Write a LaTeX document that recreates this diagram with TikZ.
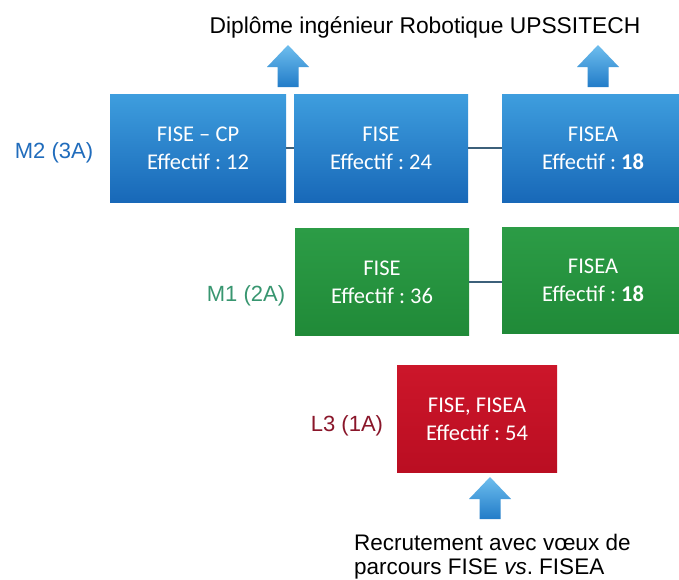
\documentclass[tikz,border=0pt]{standalone}
\usepackage{fontspec}
\setmainfont{Liberation Sans}
\newfontfamily\boxfont{Carlito}
\usetikzlibrary{calc}
\frenchspacing
\definecolor{bluetop}{RGB}{62,158,222}
\definecolor{bluebot}{RGB}{24,104,184}
\definecolor{greentop}{RGB}{44,156,70}
\definecolor{greenbot}{RGB}{32,138,56}
\definecolor{redtop}{RGB}{204,22,42}
\definecolor{redbot}{RGB}{186,14,34}
\definecolor{arrtop}{RGB}{110,190,238}
\definecolor{arrbot}{RGB}{34,124,200}
\definecolor{linkcol}{RGB}{60,96,122}
\definecolor{mtwocol}{RGB}{32,108,188}
\definecolor{monecol}{RGB}{56,150,112}
\definecolor{lthreecol}{RGB}{138,22,42}
\begin{document}
\begin{tikzpicture}[x=1pt,y=-1pt,
  boxbase/.style={rectangle, inner sep=0pt, align=center, text=white,
    font=\boxfont\fontsize{22.5}{28}\selectfont\frenchspacing},
  bluebox/.style={boxbase, top color=bluetop, bottom color=bluebot},
  greenbox/.style={boxbase, top color=greentop, bottom color=greenbot},
  redbox/.style={boxbase, top color=redtop, bottom color=redbot},
  lvl/.style={font=\fontsize{22}{26}\selectfont, inner sep=0pt},
  link/.style={draw=linkcol, line width=2pt},
  arrfill/.style={top color=arrtop, bottom color=arrbot, draw=none},
  uparr/.pic={\path[arrfill] (-10.5,42) -- (-10.5,22) -- (-21,22) -- (0,0) -- (21,22) -- (10.5,22) -- (10.5,42) -- cycle;}
]
\path[use as bounding box, fill=white] (0,0) rectangle (679,579);
\begin{scope}
\clip (0,0) rectangle (679,579);

% title
\node[anchor=base, inner sep=0pt, font=\fontsize{22.8}{26}\selectfont] (title) at (425,33) {Diplôme ingénieur Robotique UPSSITECH};

% arrows
\pic at (288,45) {uparr};
\pic at (598,45) {uparr};
\pic at (490,477) {uparr};

% M2 row
\node[bluebox, minimum width=176pt, minimum height=108pt] (b1) at (198,148) {FISE – CP\\Effectif : 12};
\node[bluebox, minimum width=174pt, minimum height=108pt] (b2) at (381,148) {FISE\\Effectif : 24};
\node[bluebox, minimum width=182pt, minimum height=108pt] (b3) at (593,148) {FISEA\\Effectif : \textbf{18}};
\draw[link] (b1.east) -- (b2.west);
\draw[link] (b2.east) -- (b3.west);

% M1 row
\node[greenbox, minimum width=174pt, minimum height=107pt] (m1a) at (382,282) {FISE\\Effectif : 36};
\node[greenbox, minimum width=182pt, minimum height=106pt] (m1b) at (593,280) {FISEA\\Effectif : \textbf{18}};
\draw[link] (m1a.east) -- (m1a.east -| m1b.west);

% L3
\node[redbox, minimum width=160pt, minimum height=107pt] (l3) at (477,419) {FISE, FISEA\\Effectif : 54};

% level labels
\node[lvl, text=mtwocol] (lm2) at (54,153) {M2 (3A)};
\node[lvl, text=monecol] (lm1) at (246,296) {M1 (2A)};
\node[lvl, text=lthreecol] (ll3) at (347,426) {L3 (1A)};

% bottom text
\node[anchor=north west, inner sep=0pt, align=left, font=\fontsize{22.5}{24}\selectfont] (recr) at (354,534) {Recrutement avec vœux de\\parcours FISE \textit{vs}. FISEA};
\end{scope}
\end{tikzpicture}
\end{document}
